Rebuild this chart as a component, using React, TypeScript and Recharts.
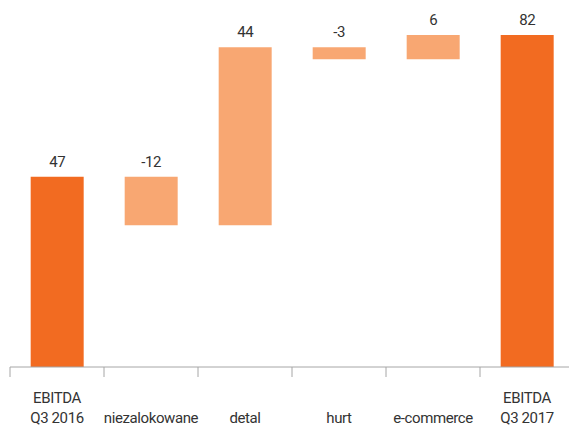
import React from 'react';
import { BarChart, Bar, XAxis, YAxis, Cell, LabelList } from 'recharts';

const categories = ['EBITDA\nQ3 2016', 'niezalokowane', 'detal', 'hurt', 'e-commerce', 'EBITDA\nQ3 2017'];
const values = [47, -12, 44, -3, 6, 82];
const isTotal = [true, false, false, false, false, true];

const DARK = '#F26B21';
const LIGHT = '#F8A772';
const FONT = 'Roboto, sans-serif';

let running = 0;
const data = categories.map((name, i) => {
    const v = values[i];
    let base = 0;
    let size = v;
    if (isTotal[i]) {
        running = v;
    } else {
        base = Math.min(running, running + v);
        size = Math.abs(v);
        running += v;
    }
    return { name, base, size, label: String(v), total: isTotal[i] };
});

// category label plus a small tick at the left edge of its band
const CategoryTick = (props: any) => {
    const { x, y, payload } = props;
    const lines = String(payload.value).split('\n');
    const half = payload.offset || 0;
    return (
        <g>
            {half > 0 && <line x1={x - half} x2={x - half} y1={y} y2={y + 10} stroke="#a6a6a6" />}
            <text x={x} y={y} textAnchor="middle" fill="#333" fontSize={15} letterSpacing={-0.4}
                  fontFamily={FONT}>
                {lines.map((l, i) => (
                    <tspan key={i} x={x} y={y + 56 - (lines.length - 1 - i) * 20}>{l}</tspan>
                ))}
            </text>
        </g>
    );
};

export default function App() {
    return (
        <div style={{ position: 'absolute', left: 0, top: 0, width: 569, height: 428, overflow: 'hidden' }}>
            <BarChart width={574} height={428} data={data} barCategoryGap="22%"
                      margin={{ top: 35, right: 0, left: 10, bottom: 0 }}>
                <XAxis dataKey="name" height={61} interval={0} tickSize={0} tickMargin={0}
                       axisLine={{ stroke: '#a6a6a6' }} tickLine={false} tick={<CategoryTick />} />
                <YAxis hide domain={[0, 'dataMax']} />
                <Bar dataKey="base" stackId="w" fill="transparent" isAnimationActive={false} />
                <Bar dataKey="size" stackId="w" isAnimationActive={false}>
                    {data.map((d, i) => (
                        <Cell key={i} fill={d.total ? DARK : LIGHT} />
                    ))}
                    <LabelList dataKey="label" position="top" offset={10} fill="#333"
                               fontSize={15} letterSpacing={-0.4} fontFamily={FONT} />
                </Bar>
            </BarChart>
        </div>
    );
}
